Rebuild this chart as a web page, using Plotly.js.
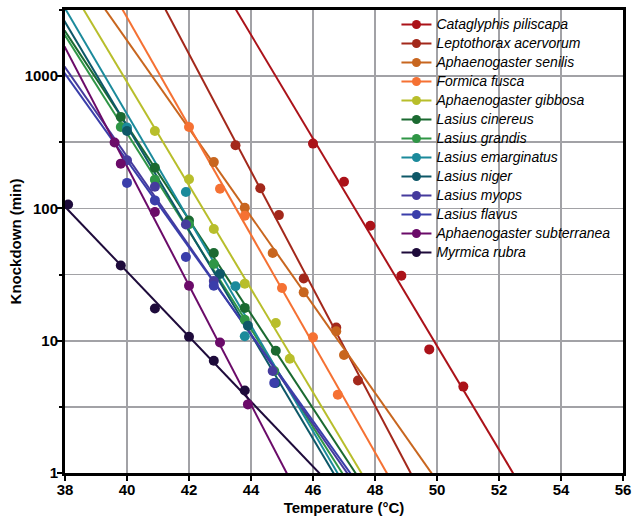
<!DOCTYPE html>
<html>
<head>
<meta charset="utf-8">
<script src="https://cdn.plot.ly/plotly-3.0.1.min.js"></script>
<style>html,body{margin:0;padding:0;background:#fff;}#chart{width:638px;height:518px;}</style>
</head>
<body>
<div id="chart"></div>
<script>
// Species (legend order)
const species = [
  "Cataglyphis piliscapa", "Leptothorax acervorum", "Aphaenogaster senilis",
  "Formica fusca", "Aphaenogaster gibbosa", "Lasius cinereus", "Lasius grandis",
  "Lasius emarginatus", "Lasius niger", "Lasius myops", "Lasius flavus",
  "Aphaenogaster subterranea", "Myrmica rubra"
];
const colors = [
  "#ab1219", "#a3281b", "#c8661f", "#f57133", "#b8be2b", "#1b6a31", "#2f9646",
  "#1b8a9b", "#0e5868", "#463b9d", "#3a3eaa", "#6b0b69", "#1e0b3b"
];

// Observed points: temperature (°C) and knockdown time (min)
const tempCataglyphis = [46.0, 47.0, 47.85, 48.85, 49.75, 50.85];
const knockCataglyphis = [309, 159, 74, 31, 8.6, 4.5];
const tempLeptothorax = [43.5, 44.3, 44.9, 45.7, 46.75, 47.45];
const knockLeptothorax = [300, 142, 89, 29.5, 12.6, 5.0];
const tempSenilis = [42.8, 43.8, 44.7, 45.7, 46.75, 47.0];
const knockSenilis = [224, 101, 46, 23.2, 11.8, 7.8];
const tempFormica = [42.0, 43.0, 43.8, 45.0, 46.0, 46.8];
const knockFormica = [413, 141, 88, 25, 10.6, 3.9];
const tempGibbosa = [40.9, 42.0, 42.8, 43.8, 44.8, 45.25];
const knockGibbosa = [385, 166, 70, 27, 13.6, 7.3];
const tempCinereus = [39.8, 40.9, 42.0, 42.8, 43.8, 44.8];
const knockCinereus = [492, 203, 81, 46, 17.7, 8.4];
const tempGrandis = [39.8, 40.9, 42.0, 42.8, 43.8, 44.75];
const knockGrandis = [413, 165, 76, 38, 14.4, 5.9];
const tempEmarginatus = [40.0, 41.9, 43.5, 43.8];
const knockEmarginatus = [409, 133, 25.8, 10.8];
const tempNiger = [40.0, 43.0, 43.9, 44.8];
const knockNiger = [385, 32, 13, 4.8];
const tempMyops = [40.0, 40.9, 41.9, 42.8, 44.7];
const knockMyops = [231, 146, 75.6, 28.3, 5.9];
const tempFlavus = [40.0, 40.9, 41.9, 42.8, 44.75];
const knockFlavus = [156, 115, 43, 26, 4.8];
const tempSubterranea = [39.6, 39.8, 40.9, 42.0, 43.0, 43.9];
const knockSubterranea = [315, 218, 94, 26, 9.7, 3.3];
const tempMyrmica = [38.1, 39.8, 40.9, 42.0, 42.8, 43.8];
const knockMyrmica = [107, 37, 17.5, 10.7, 7.05, 4.2];

// Fitted lines: temperature at 1 min knockdown, and log10(min) drop per °C
const fitTemp1min = [52.45, 49.15, 49.82, 48.38, 47.56, 47.37, 46.94, 46.79, 46.66, 47.1, 47.2, 45.15, 46.2];
const fitSlope = [0.392, 0.443, 0.333, 0.411, 0.391, 0.3565, 0.370, 0.3996, 0.3937, 0.337, 0.328, 0.450, 0.2455];

const xTicks = [38, 40, 42, 44, 46, 48, 50, 52, 54, 56];
const yTicks = [1, 10, 100, 1000];
const yTickText = ["1", "10", "100", "1000"];
const yMinorTicks = [3.1623, 31.623, 316.23, 3162.3];

const temps = [tempCataglyphis, tempLeptothorax, tempSenilis, tempFormica, tempGibbosa,
  tempCinereus, tempGrandis, tempEmarginatus, tempNiger, tempMyops, tempFlavus,
  tempSubterranea, tempMyrmica];
const knocks = [knockCataglyphis, knockLeptothorax, knockSenilis, knockFormica, knockGibbosa,
  knockCinereus, knockGrandis, knockEmarginatus, knockNiger, knockMyops, knockFlavus,
  knockSubterranea, knockMyrmica];

const traces = [];
// fit lines (these carry the legend entries)
species.forEach((name, i) => {
  const xs = [37.0, 57.0];
  const ys = xs.map(x => Math.pow(10, fitSlope[i] * (fitTemp1min[i] - x)));
  traces.push({
    type: "scatter", mode: "lines+markers",
    name: '<span style="font-size:14px">' + name + '</span>',
    x: xs, y: ys,
    line: {color: colors[i], width: 2},
    marker: {color: colors[i], size: 9},
    cliponaxis: true, hoverinfo: "skip"
  });
});
// observed points
species.forEach((name, i) => {
  traces.push({
    type: "scatter", mode: "markers", name: name, showlegend: false,
    x: temps[i], y: knocks[i],
    marker: {color: colors[i], size: 10, line: {width: 0}},
    cliponaxis: false
  });
});

const font = "Liberation Sans, Arial, sans-serif";
const layout = {
  width: 638, height: 518,
  margin: {l: 65, r: 15, t: 10, b: 45},
  paper_bgcolor: "#fff", plot_bgcolor: "#fff",
  font: {family: font, color: "#000", size: 13},
  showlegend: true,
  legend: {
    x: 0.594, y: 1, xanchor: "left", yanchor: "top",
    bgcolor: "rgba(0,0,0,0)", borderwidth: 0,
    font: {family: font, size: 12, style: "italic", color: "#000"},
    itemwidth: 30, tracegroupgap: 0
  },
  xaxis: {
    range: [38, 56], tickmode: "array", tickvals: xTicks,
    ticks: "outside", ticklen: 5, tickwidth: 2, tickcolor: "#000",
    ticklabelstandoff: -4,
    showline: true, linewidth: 3, linecolor: "#000", mirror: true,
    showgrid: true, gridcolor: "#a2a2a6", gridwidth: 1.6, zeroline: false,
    tickfont: {family: font, size: 15, weight: "bold"},
    title: {text: "Temperature (°C)", font: {family: font, size: 15, weight: "bold"}, standoff: 6}
  },
  yaxis: {
    type: "log", range: [0, 3.5], tickmode: "array", tickvals: yTicks, ticktext: yTickText,
    ticks: "outside", ticklen: 5, tickwidth: 2, tickcolor: "#000",
    ticklabelstandoff: -4,
    showline: true, linewidth: 3, linecolor: "#000", mirror: true,
    showgrid: true, gridcolor: "#a2a2a6", gridwidth: 1.6, zeroline: false,
    minor: {tickmode: "array", tickvals: yMinorTicks, ticks: "outside", ticklen: 3, tickwidth: 2, tickcolor: "#000",
            showgrid: true, gridcolor: "#a2a2a6", gridwidth: 1.6},
    tickfont: {family: font, size: 15, weight: "bold"},
    title: {text: "Knockdown (min)", font: {family: font, size: 15, weight: "bold"}, standoff: 0}
  }
};

Plotly.newPlot("chart", traces, layout, {displayModeBar: false, staticPlot: true});
</script>
</body>
</html>
